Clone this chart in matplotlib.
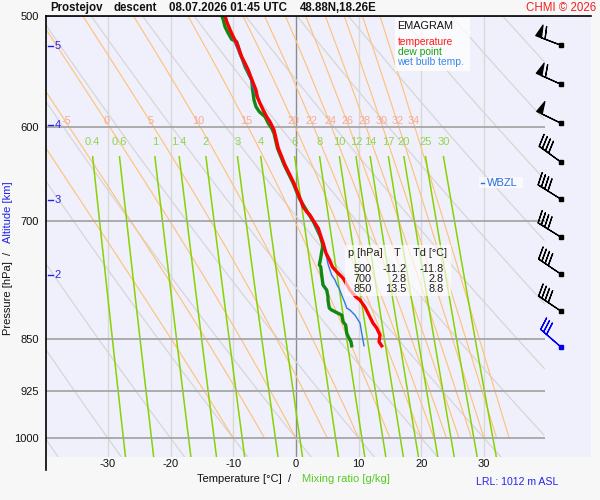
import numpy as np
import matplotlib
matplotlib.use('Agg')
import matplotlib.pyplot as plt
from matplotlib.patches import Rectangle
from matplotlib.lines import Line2D

plt.rcParams['font.family'] = ['Liberation Sans', 'DejaVu Sans']

# ---------------- data ----------------
red_p = [500, 504.7, 511.6, 517.3, 522.9, 528.7, 534.6, 540.4, 546.4, 552.4,
         558.4, 564.6, 570.8, 577.0, 583.5, 589.9, 594.8, 602.9, 621.3, 630.0,
         638.6, 649.2, 658.1, 667.2, 674.5, 683.9, 689.5, 693.3, 700.9, 708.5,
         718.4, 726.2, 737.9, 746.4, 755.0, 761.3, 768.8, 784.1, 793.2, 797.1,
         806.3, 814.3, 827.8, 834.6, 844.3, 853.6, 859.3]
red_T = [-11.3, -11.05, -10.5, -10.0, -9.46, -9.04, -8.66, -8.13, -7.61, -7.22,
         -6.81, -6.38, -6.17, -5.74, -5.22, -4.67, -4.15, -3.51, -2.82, -2.28,
         -1.75, -0.96, -0.32, 0.21, 0.64, 1.16, 1.71, 2.23, 2.87, 3.56,
         3.99, 4.35, 4.78, 5.34, 5.82, 6.54, 7.50, 8.61, 9.57, 10.21,
         11.0, 11.48, 12.28, 12.87, 13.40, 13.24, 13.67]

dew_p = [500, 503.3, 508.9, 514.4, 519.5, 521.6, 525.8, 531.6, 537.4, 543.4,
         549.3, 555.4, 564.6, 573.9, 580.3, 585.1, 589.9, 596.3, 601.2, 606.2,
         621.3, 638.6, 658.1, 674.5, 693.3, 700.9, 718.4, 726.2, 730.3, 736.3,
         744.0, 752.5, 754.6, 765.0, 777.7, 784.1, 792.8, 797.1, 807.7, 810.3,
         813.9, 817.0, 826.0, 830.5, 841.4, 846.6, 853.6, 859.3]
dew_T = [-11.8, -11.6, -11.32, -10.8, -10.26, -9.46, -9.2, -8.93, -8.5, -8.13,
         -7.61, -7.07, -6.91, -6.70, -6.38, -5.85, -4.94, -4.42, -3.88, -3.51,
         -2.95, -1.87, -0.43, 0.53, 2.12, 2.79, 3.9, 4.2, 4.26, 4.1,
         3.94, 3.72, 3.94, 4.1, 4.31, 4.9, 5.1, 5.1, 5.31, 5.69,
         6.54, 7.29, 7.5, 7.93, 8.09, 8.34, 8.77, 8.88]

wb_p = [500, 517.3, 534.6, 552.4, 570.8, 589.9, 602.9, 630.0, 658.1, 683.9,
        700.9, 718.4, 726.2, 730.3, 736.3, 744.0, 752.5, 765.0, 771.3, 777.7,
        781.5, 790.6, 801.0, 807.7, 810.3, 817.0, 827.8, 841.4, 859.3]
wb_T = [-11.5, -10.2, -8.85, -7.4, -6.35, -4.85, -3.6, -2.4, -0.4, 1.0,
        2.8, 3.9, 4.3, 4.35, 4.63, 4.9, 5.15, 5.69, 6.22, 6.54,
        6.86, 7.29, 7.81, 8.09, 8.61, 9.41, 10.21, 10.48, 10.85]

wind_p = [524.4, 559.1, 596.3, 635.1, 675.6, 719.1, 764.1, 812.0, 861.5]
wind_dir = [291, 294, 296, 306, 302, 302, 304, 304, 311]
wind_spd = [60, 60, 50, 40, 40, 40, 40, 40, 30]

alt_km = [2, 3, 4, 5]
alt_p = [765, 676, 598, 525]

iso_p = [500, 600, 700, 850, 925, 1000]
temp_ticks = [-30, -20, -10, 0, 10, 20, 30]
mixing_ratios = [0.4, 0.6, 1, 1.4, 2, 3, 4, 6, 8, 10, 12, 14, 17, 20, 25, 30]
theta_w = [-10, -5, 0, 5, 10, 15, 20, 22, 24, 26, 28, 30, 32, 34]
theta_dry = [-40, -30, -20, -10, 0, 10, 20, 30, 40, 50, 60, 70, 80, 90, 100]

table_p = [500, 700, 850]
table_T = [-11.2, 2.8, 13.5]
table_Td = [-11.8, 2.8, 8.8]

wbzl_p = 658
lrl_m = 1012

# ---------------- figure ----------------
W, H = 600, 500
fig = plt.figure(figsize=(6, 5), dpi=100, facecolor='#f7f7f7')


def fx(px):
    return px / W


def fy(py):
    return 1 - py / H


AX_L, AX_R, AX_T, AX_B = 46, 591, 16, 457
ax = fig.add_axes([fx(AX_L), fy(AX_B), fx(AX_R) - fx(AX_L), fy(AX_T) - fy(AX_B)])
ax.set_facecolor('#f0f0fc')
T_LEFT, T_RIGHT = -39.87, 47.05
P_TOP, P_BOT = 500, 1031.4
T_GRID = 39.7
ax.set_yscale('log')
ax.set_xlim(T_LEFT, T_RIGHT)
ax.set_ylim(P_BOT, P_TOP)
for s in ax.spines.values():
    s.set_visible(False)

ax.set_yticks(iso_p)
ax.set_yticklabels([str(p) for p in iso_p])
ax.yaxis.set_minor_locator(matplotlib.ticker.NullLocator())
ax.set_xticks(temp_ticks)
ax.set_xticklabels([str(t) for t in temp_ticks])
ax.tick_params(axis='both', length=0, labelsize=8, colors='#111111')
ax.tick_params(axis='y', pad=5)
ax.tick_params(axis='x', pad=1.5)

# isotherms
for t in temp_ticks:
    ax.axvline(t, color='#8c8c8c' if t == 0 else '#d8d8d8', lw=1.0, zorder=1)

# dry adiabats
pp = np.geomspace(P_TOP, P_BOT, 300)
for th in theta_dry:
    T = (th + 273.15) * (pp / 1000.0) ** 0.2857 - 273.15
    m = T <= T_GRID
    ax.plot(T[m], pp[m], color='#d6d6d6', lw=0.9, zorder=1.2)

# pseudo-adiabats
Rd, Cp, Lv, eps = 287.04, 1005.7, 2.501e6, 0.622


def dTdp(p, T):
    es = 6.112 * np.exp(17.67 * (T - 273.15) / (T - 29.65))
    rs = eps * es / (p - es)
    return (Rd * T + Lv * rs) / (Cp + Lv * Lv * rs * eps / (Rd * T * T)) / p


pm = np.linspace(1000, 500, 501)
Tm = np.array(theta_w, float) + 273.15
curves = [Tm.copy()]
for i in range(1, len(pm)):
    h = pm[i] - pm[i - 1]
    p0 = pm[i - 1]
    k1 = dTdp(p0, Tm)
    k2 = dTdp(p0 + h / 2, Tm + h / 2 * k1)
    k3 = dTdp(p0 + h / 2, Tm + h / 2 * k2)
    k4 = dTdp(p0 + h, Tm + h * k3)
    Tm = Tm + h / 6 * (k1 + 2 * k2 + 2 * k3 + k4)
    curves.append(Tm.copy())
curves = np.array(curves) - 273.15
LBL_P_MOIST = 594
for j, tw in enumerate(theta_w):
    c = curves[:, j]
    ax.plot(c, pm, color='#ffc27c', lw=0.85, zorder=1.5)
    tl = np.interp(LBL_P_MOIST, pm[::-1], c[::-1])
    if T_LEFT + 1 < tl < T_GRID:
        ax.text(tl + 0.15, LBL_P_MOIST, f'{tw:g}', color='#f7a993', fontsize=7.8,
                ha='center', va='center', zorder=3)

# mixing ratio lines
pw = np.geomspace(630, P_BOT, 100)
for w in mixing_ratios:
    e = pw * w / (622.0 + w)
    ln = np.log(e / 6.112)
    Td = 243.5 * ln / (17.67 - ln)
    ax.plot(Td, pw, color='#86d300', lw=1.1, zorder=2)
    ax.text(Td[0], 615, f'{w:g}', color='#92d44e', fontsize=8,
            ha='center', va='center', zorder=3)

# isobars
ax.hlines(iso_p, T_LEFT, T_GRID, color='#a6a6a6', lw=1.3, zorder=2.5)

# profiles
ax.plot(dew_T, dew_p, color='#118811', lw=2.4, zorder=5)
ax.plot(wb_T, wb_p, color='#2b79e0', lw=1.0, zorder=6)
ax.plot(red_T, red_p, color='#ff0000', lw=2.4, zorder=7)

# altitude markers
ALT_C = '#2222ee'
for km, p in zip(alt_km, alt_p):
    ax.plot([-39.55, -38.75], [p, p], color=ALT_C, lw=1.0, zorder=4)
    ax.text(-37.95, p, str(km), color=ALT_C, fontsize=8, ha='center',
            va='center', zorder=4)

# wind barbs
XB = 42.22
d = np.deg2rad(wind_dir)
u = -np.array(wind_spd) * np.sin(d)
v = -np.array(wind_spd) * np.cos(d)
n = len(wind_p)
for i in range(n):
    col = '#0000ee' if i == n - 1 else 'black'
    ax.barbs([XB], [wind_p[i]], [u[i]], [v[i]], length=6.3, color=col,
             linewidth=0.9, zorder=8, clip_on=False,
             sizes=dict(spacing=0.14, height=0.45, width=0.22))
    ax.plot([XB], [wind_p[i]], 's', ms=2.6, color=col, zorder=9)

# WBZL
WB_C = '#2a6fe0'
ax.add_patch(Rectangle((fx(479), fy(188)), fx(523) - fx(479), fy(177) - fy(188),
                       transform=fig.transFigure, facecolor='white', alpha=0.6,
                       edgecolor='none', zorder=9))
ax.plot([(480.7 - 296) / 6.27, (484.5 - 296) / 6.27], [wbzl_p, wbzl_p],
        color=WB_C, lw=1.0, zorder=10)
ax.text((486.5 - 296) / 6.27, wbzl_p, 'WBZL', color=WB_C, fontsize=8,
        ha='left', va='center', zorder=10)

# legend box
ax.add_patch(Rectangle((fx(395), fy(71)), fx(470) - fx(395), fy(18) - fy(71),
                       transform=fig.transFigure, facecolor='white', alpha=0.75,
                       edgecolor='none', zorder=11, clip_on=False))
leg = [('EMAGRAM', '#111111', 26, 7.8), ('temperature', '#ff1a1a', 42.3, 7.4),
       ('dew point', '#17a317', 51.7, 7.4), ('wet bulb temp.', '#3a86ee', 62, 7.4)]
for txt, c, y, fs in leg:
    fig.text(fx(397.5), fy(y), txt, color=c, fontsize=fs, ha='left', va='center',
             zorder=12)

# table box
ax.add_patch(Rectangle((fx(345), fy(296)), fx(450.5) - fx(345), fy(245) - fy(296),
                       transform=fig.transFigure, facecolor='white', alpha=0.65,
                       edgecolor='none', zorder=11, clip_on=False))
TC = '#1c1c1c'
fig.text(fx(348), fy(253.5), 'p [hPa]', color=TC, fontsize=7.8, ha='left', va='center', zorder=12)
fig.text(fx(397.5), fy(253.5), 'T', color=TC, fontsize=7.8, ha='center', va='center', zorder=12)
fig.text(fx(413), fy(253.5), 'Td [°C]', color=TC, fontsize=7.8, ha='left', va='center', zorder=12)
for k, (p, t, td) in enumerate(zip(table_p, table_T, table_Td)):
    y = 269 + 10 * k
    fig.text(fx(372), fy(y), f'{p}', color=TC, fontsize=7.8, ha='right', va='center', zorder=12)
    fig.text(fx(407), fy(y), f'{t:.1f}', color=TC, fontsize=7.8, ha='right', va='center', zorder=12)
    fig.text(fx(444), fy(y), f'{td:.1f}', color=TC, fontsize=7.8, ha='right', va='center', zorder=12)

# frame lines
fig.add_artist(Line2D([fx(46), fx(591)], [fy(16), fy(16)], color='black', lw=1.2))
fig.add_artist(Line2D([fx(46), fx(46)], [fy(16), fy(470)], color='black', lw=1.2))

# titles
TY = fy(8)
fig.text(fx(50), TY, 'Prostejov', fontsize=8.3, fontweight='bold', va='center', color='#111111')
fig.text(fx(114), TY, 'descent', fontsize=8.3, fontweight='bold', va='center', color='#111111')
fig.text(fx(169), TY, '08.07.2026 01:45 UTC', fontsize=8.3, fontweight='bold', va='center', color='#111111')
fig.text(fx(300), TY, '48.88N,18.26E', fontsize=8.3, fontweight='bold', va='center', color='#111111')
fig.text(fx(596), TY, 'CHMI © 2026', fontsize=8.3, ha='right', va='center', color='#ee2020')

# axis labels
fig.text(fx(197), fy(479), 'Temperature [°C]  /', fontsize=8, ha='left', va='center', color='#111111')
fig.text(fx(302), fy(479), 'Mixing ratio [g/kg]', fontsize=8, ha='left', va='center', color='#55cc22')
fig.text(fx(476), fy(482), f'LRL: {lrl_m} m ASL', fontsize=7.6, ha='left', va='center', color='#2525ee')

fig.text(fx(8), fy(335), 'Pressure [hPa]', fontsize=8, rotation=90, ha='center', va='bottom', color='#111111')
fig.text(fx(8), fy(253), '/', fontsize=8, rotation=90, ha='center', va='center', color='#111111')
fig.text(fx(8), fy(243), 'Altitude [km]', fontsize=8, rotation=90, ha='center', va='bottom', color=ALT_C)

fig.savefig('out.png', dpi=100, facecolor=fig.get_facecolor())
